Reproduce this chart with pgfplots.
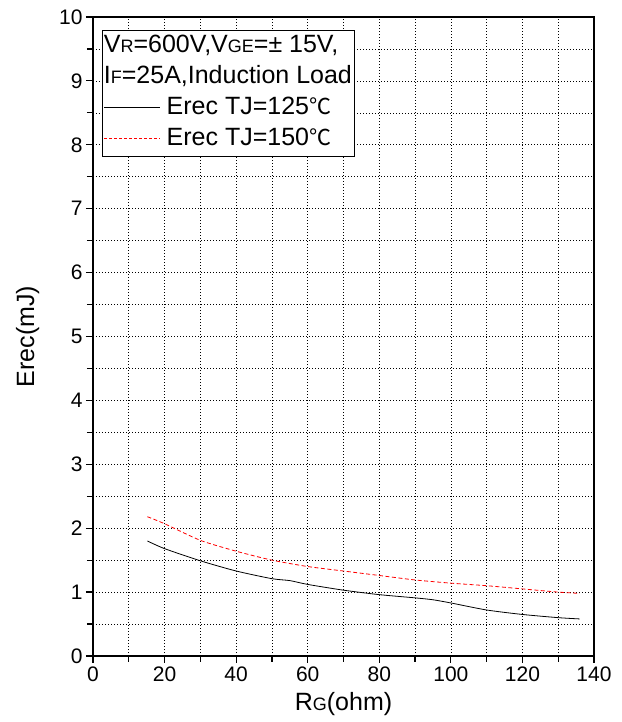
\documentclass[border=0pt]{standalone}
\usepackage{fontspec}
\setmainfont{Liberation Sans}
\newfontfamily\cjk{Noto Sans CJK SC}
\usepackage{pgfplots}
\pgfplotsset{compat=1.18}
\newcommand{\sm}[1]{{\fontsize{18}{18}\selectfont #1}}
\newcommand{\degc}{{\cjk\fontsize{22}{22}\selectfont ℃}}
\begin{document}
\begin{tikzpicture}
\begin{axis}[
  scale only axis, width=501pt, height=639pt,
  xmin=0, xmax=140, ymin=0, ymax=10,
  xtick={0,20,...,140}, ytick={0,1,...,10},
  minor x tick num=1, minor y tick num=1,
  grid=both,
  major grid style={black, line width=0.6pt, dash pattern=on 1pt off 2pt},
  minor grid style={black, line width=0.6pt, dash pattern=on 1pt off 2pt},
  tick align=outside, xtick pos=left, ytick pos=left,
  major tick length=7pt, minor tick length=6pt,
  tick style={black, line width=1.2pt},
  axis line style={line width=1.3pt},
  /pgf/number format/assume math mode=true,
  ticklabel style={font=\fontsize{21}{21}\selectfont},
  label style={font=\fontsize{25}{25}\selectfont},
  xlabel={R\sm{G}(ohm)}, ylabel={Erec(mJ)},
  xlabel style={yshift=-4pt},
  ylabel style={yshift=13pt},
]
\addplot[black, line width=0.8pt, smooth, tension=0.4] coordinates {
(15.2,1.80) (20,1.68) (30,1.49) (40,1.33) (50,1.21) (55,1.18) (60,1.12)
(70,1.03) (80,0.96) (90,0.91) (95,0.88) (100,0.83) (110,0.72) (120,0.65)
(130,0.60) (136,0.58)};
\addplot[red, line width=0.8pt, dash pattern=on 4pt off 2.5pt, smooth, tension=0.4] coordinates {
(15.2,2.18) (20,2.07) (30,1.81) (40,1.64) (50,1.50) (60,1.40) (70,1.33)
(80,1.26) (90,1.19) (100,1.14) (110,1.10) (120,1.05) (130,1.00) (136,0.98)};
\node[draw=black, line width=0.8pt, fill=white, anchor=north west, inner xsep=2pt, inner ysep=1pt,
  font=\fontsize{25}{31}\selectfont] at (rel axis cs:0.017,0.98) {%
\begin{tabular}{@{}l@{}}
V\sm{R}=600V,V\sm{GE}=± 15V,\\
I\sm{F}=25A,Induction Load\\
\tikz[baseline=-0.6ex]\draw[black, line width=0.8pt] (0,0)--(56pt,0);\hspace{6pt}Erec TJ=125\degc\\
\tikz[baseline=-0.6ex]\draw[red, line width=0.8pt, dash pattern=on 3pt off 2pt] (0,0)--(56pt,0);\hspace{6pt}Erec TJ=150\degc
\end{tabular}};
\end{axis}
\pgfresetboundingbox
\path ([xshift=-93pt,yshift=-66pt]current axis.south west) rectangle ([xshift=27pt,yshift=17pt]current axis.north east);
\end{tikzpicture}
\end{document}
